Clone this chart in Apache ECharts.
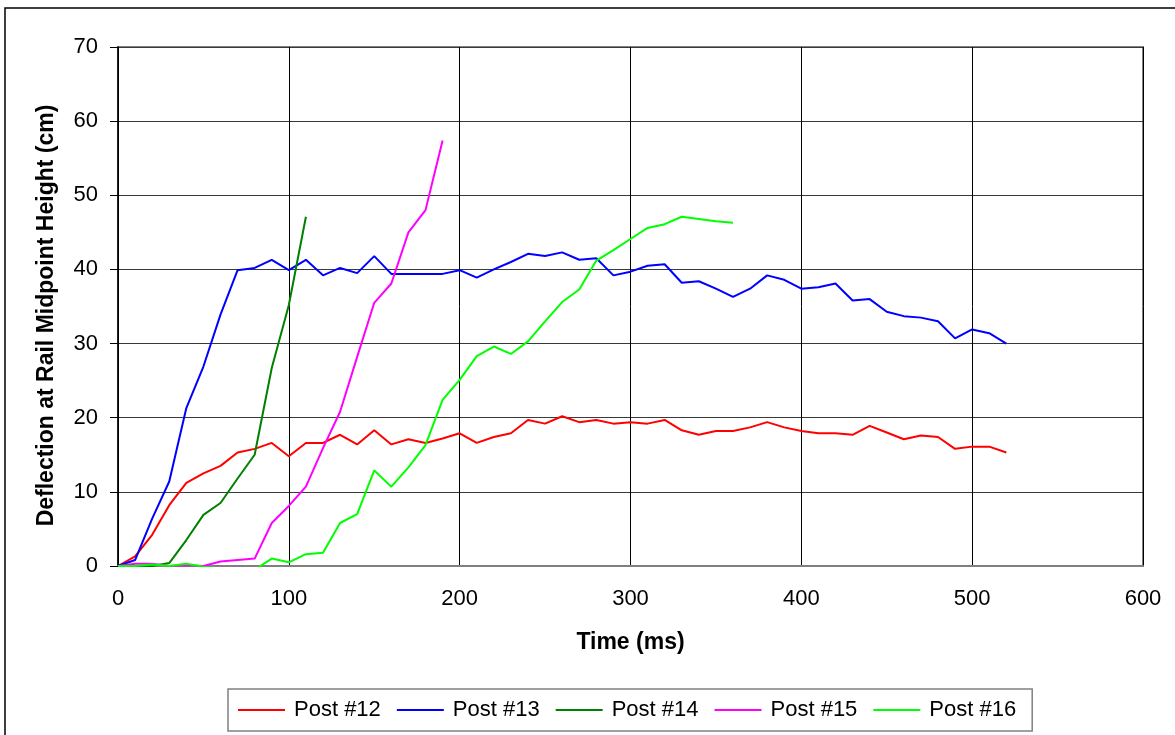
<!DOCTYPE html>
<html>
<head>
<meta charset="utf-8">
<title>Rail Deflection vs Time</title>
<script src="https://cdn.jsdelivr.net/npm/echarts@6/dist/echarts.min.js"></script>
<style>
  html, body { margin: 0; padding: 0; background: #fff; }
  #chart { width: 1175px; height: 735px; }
</style>
</head>
<body>
<div id="chart"></div>
<script>
// Sample times (ms), one reading every 10 ms
const timeMs = [0, 10, 20, 30, 40, 50, 60, 70, 80, 90, 100, 110, 120, 130, 140, 150, 160, 170, 180, 190,
  200, 210, 220, 230, 240, 250, 260, 270, 280, 290, 300, 310, 320, 330, 340, 350, 360, 370, 380, 390,
  400, 410, 420, 430, 440, 450, 460, 470, 480, 490, 500, 510, 520];

// Deflection at rail midpoint height (cm) for each post
const post12 = [0, 1.3, 4.2, 8.2, 11.2, 12.5, 13.5, 15.3, 15.8, 16.6, 14.8, 16.6, 16.6, 17.7, 16.4, 18.3, 16.4, 17.1, 16.6, 17.2,
  17.9, 16.6, 17.4, 17.9, 19.7, 19.2, 20.2, 19.4, 19.7, 19.2, 19.4, 19.2, 19.7, 18.3, 17.7, 18.2, 18.2, 18.7, 19.4, 18.7,
  18.2, 17.9, 17.9, 17.7, 18.9, 18.0, 17.1, 17.6, 17.4, 15.8, 16.1, 16.1, 15.3];
const post13 = [0, 0.8, 6.4, 11.4, 21.3, 26.9, 33.9, 39.9, 40.2, 41.3, 39.9, 41.3, 39.2, 40.2, 39.5, 41.8, 39.4, 39.4, 39.4, 39.4,
  39.9, 38.9, 40.0, 41.0, 42.1, 41.8, 42.3, 41.3, 41.5, 39.2, 39.7, 40.5, 40.7, 38.2, 38.4, 37.4, 36.3, 37.4, 39.2, 38.6,
  37.4, 37.6, 38.1, 35.8, 36.0, 34.3, 33.7, 33.5, 33.0, 30.7, 31.9, 31.4, 30.0];
const post14 = [0, 0, 0, 0.4, 3.5, 6.9, 8.5, 11.8, 15.0, 26.7, 35.2, 47.1];
const post15 = [0, 0.3, 0.3, 0, 0.1, 0, 0.6, 0.8, 1.0, 5.8, 8.1, 10.7, 15.9, 20.8, 28.2, 35.5, 38.1, 45.0, 48.0, 57.4];
const post16 = [0, 0, 0.2, 0, 0.3, -0.1, -0.3, -0.3, -0.5, 1.0, 0.5, 1.6, 1.8, 5.8, 7.0, 12.9, 10.7, 13.3, 16.3, 22.4,
  25.1, 28.3, 29.6, 28.6, 30.3, 33.0, 35.6, 37.3, 41.2, 42.6, 44.1, 45.6, 46.1, 47.1, 46.8, 46.5, 46.3];

const seriesNames = ['Post #12', 'Post #13', 'Post #14', 'Post #15', 'Post #16'];
const seriesValues = [post12, post13, post14, post15, post16];
const seriesColors = ['#ff0000', '#0000ff', '#008000', '#ff00ff', '#00ff00'];

// Axis ticks
const xTicks = [0, 100, 200, 300, 400, 500, 600];
const yTicks = [0, 10, 20, 30, 40, 50, 60, 70];

const FONT = '"Liberation Sans", Arial, sans-serif';

const chart = echarts.init(document.getElementById('chart'), null, { renderer: 'canvas' });

const series = seriesNames.map((name, i) => ({
  name: name,
  type: 'line',
  data: seriesValues[i].map((v, k) => [timeMs[k], v]),
  symbol: 'none',
  clip: true,
  lineStyle: { color: seriesColors[i], width: 2 },
  itemStyle: { color: seriesColors[i] },
  z: 3,
  animation: false
}));

chart.setOption({
  animation: false,
  backgroundColor: '#ffffff',
  textStyle: { fontFamily: FONT },
  graphic: [{
    type: 'rect',
    shape: { x: 5, y: 8, width: 1300, height: 900 },
    style: { fill: 'none', stroke: '#000', lineWidth: 1.5 },
    silent: true,
    z: -1
  }],
  grid: {
    left: 118, right: 32, top: 47, bottom: 169,
    show: true,
    borderColor: '#808080',
    borderWidth: 2,
    backgroundColor: 'transparent'
  },
  legend: {
    data: seriesNames,
    left: 228,
    top: 689,
    padding: [10, 16, 10, 10],
    itemGap: 16,
    itemWidth: 47,
    itemHeight: 2,
    icon: 'rect',
    borderColor: '#808080',
    borderWidth: 1.5,
    textStyle: { fontFamily: FONT, fontSize: 22, color: '#000', padding: [0, 0, 0, 4] },
    selectedMode: false
  },
  xAxis: {
    type: 'value',
    min: xTicks[0],
    max: xTicks[xTicks.length - 1],
    interval: 100,
    name: 'Time (ms)',
    nameLocation: 'middle',
    nameGap: 65,
    nameTextStyle: { fontFamily: FONT, fontSize: 23, fontWeight: 'bold', color: '#000' },
    axisLine: { show: true, onZero: false, lineStyle: { color: '#808080', width: 2 } },
    axisTick: { show: false },
    axisLabel: { fontFamily: FONT, fontSize: 22, color: '#000', margin: 22 },
    splitLine: { show: true, lineStyle: { color: '#000', width: 1 } }
  },
  yAxis: {
    type: 'value',
    min: yTicks[0],
    max: yTicks[yTicks.length - 1],
    interval: 10,
    name: 'Deflection at Rail Midpoint Height (cm)',
    nameLocation: 'middle',
    nameGap: 60,
    nameTextStyle: { fontFamily: FONT, fontSize: 23, fontWeight: 'bold', color: '#000', padding: [0, 18, 0, 0] },
    axisLine: { show: true, lineStyle: { color: '#000', width: 1.5 } },
    axisTick: { show: true, inside: false, length: 8, lineStyle: { color: '#000', width: 1 } },
    axisLabel: { fontFamily: FONT, fontSize: 22, color: '#000', margin: 20 },
    splitLine: { show: true, lineStyle: { color: '#3a3a3a', width: 1.2 } }
  },
  series: series
});
</script>
</body>
</html>
